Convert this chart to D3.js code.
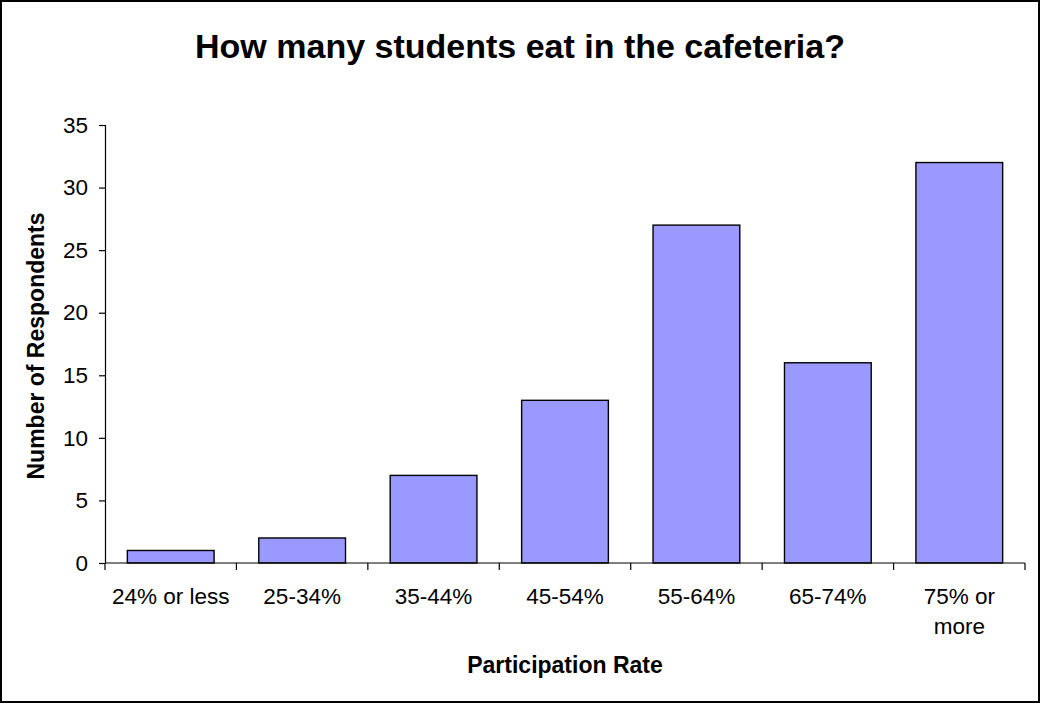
<!DOCTYPE html>
<html>
<head>
<meta charset="utf-8">
<script src="https://cdn.jsdelivr.net/npm/d3@7"></script>
<style>
  html, body { margin: 0; padding: 0; background: #fff; }
  svg { display: block; font-family: Arial, "Liberation Sans", sans-serif; }
</style>
</head>
<body>
<svg id="chart" width="1040" height="704"></svg>
<script>
// Cafeteria participation survey
const categories = ["24% or less", "25-34%", "35-44%", "45-54%", "55-64%", "65-74%", "75% or more"];
const tickLabels = [["24% or less"], ["25-34%"], ["35-44%"], ["45-54%"], ["55-64%"], ["65-74%"], ["75% or", "more"]];
const respondents = [1, 2, 7, 13, 27, 16, 32];
const yTicks = [0, 5, 10, 15, 20, 25, 30, 35];

const titleText = "How many students eat in the cafeteria?";
const xTitle = "Participation Rate";
const yTitle = "Number of Respondents";

const svg = d3.select("#chart");
const W = 1040, H = 704;
const plot = { left: 105, right: 1025, top: 125, bottom: 563 };

// outer frame
svg.append("rect")
  .attr("x", 1).attr("y", 1).attr("width", 1038).attr("height", 701)
  .attr("fill", "#fff").attr("stroke", "#000").attr("stroke-width", 2);

const x = d3.scaleBand()
  .domain(categories)
  .range([plot.left, plot.right])
  .paddingInner(0.34)
  .paddingOuter(0.17);

const y = d3.scaleLinear()
  .domain([0, 35])
  .range([plot.bottom, plot.top]);

// bars
svg.append("g").selectAll("rect")
  .data(categories)
  .join("rect")
  .attr("x", d => x(d))
  .attr("y", (d, i) => y(respondents[i]))
  .attr("width", x.bandwidth())
  .attr("height", (d, i) => y(0) - y(respondents[i]))
  .attr("fill", "#9999FF")
  .attr("stroke", "#000")
  .attr("stroke-width", 1.4);

// y axis
const yAxis = svg.append("g")
  .attr("transform", `translate(${plot.left},0)`)
  .call(d3.axisLeft(y).tickValues(yTicks).tickSize(6).tickPadding(11).tickFormat(d3.format("d")));
yAxis.select(".domain").attr("stroke", "#000").attr("stroke-width", 1.2);
yAxis.selectAll(".tick line").attr("stroke", "#000").attr("stroke-width", 1.2);
yAxis.selectAll(".tick text")
  .attr("font-size", 22.5)
  .attr("font-family", "Arial, 'Liberation Sans', sans-serif")
  .attr("fill", "#000");

// x axis: line with boundary ticks between categories
const xAxisG = svg.append("g");
xAxisG.append("line")
  .attr("x1", plot.left).attr("x2", plot.right)
  .attr("y1", y(0)).attr("y2", y(0))
  .attr("stroke", "#000").attr("stroke-width", 1.2);
const step = x.step();
const bounds = d3.range(categories.length + 1).map(i => plot.left + i * step);
xAxisG.selectAll("line.bt")
  .data(bounds)
  .join("line")
  .attr("class", "bt")
  .attr("x1", d => d).attr("x2", d => d)
  .attr("y1", y(0)).attr("y2", y(0) + 7)
  .attr("stroke", "#000").attr("stroke-width", 1.2);

// category labels
const lbl = xAxisG.selectAll("text.cat")
  .data(categories)
  .join("text")
  .attr("class", "cat")
  .attr("text-anchor", "middle")
  .attr("font-size", 22.5)
  .attr("fill", "#000");
lbl.each(function(d, i) {
  const t = d3.select(this);
  tickLabels[i].forEach((line, j) => {
    t.append("tspan")
      .attr("x", x(d) + x.bandwidth() / 2)
      .attr("y", 604 + j * 30)
      .text(line);
  });
});

// title
svg.append("text")
  .attr("x", W / 2).attr("y", 58)
  .attr("text-anchor", "middle")
  .attr("font-size", 34).attr("font-weight", "bold")
  .text(titleText);

// axis titles
svg.append("text")
  .attr("x", (plot.left + plot.right) / 2).attr("y", 673)
  .attr("text-anchor", "middle")
  .attr("font-size", 23).attr("font-weight", "bold")
  .text(xTitle);

svg.append("text")
  .attr("transform", `translate(44,${(plot.top + plot.bottom) / 2 + 2}) rotate(-90)`)
  .attr("text-anchor", "middle")
  .attr("font-size", 23).attr("font-weight", "bold")
  .text(yTitle);
</script>
</body>
</html>
